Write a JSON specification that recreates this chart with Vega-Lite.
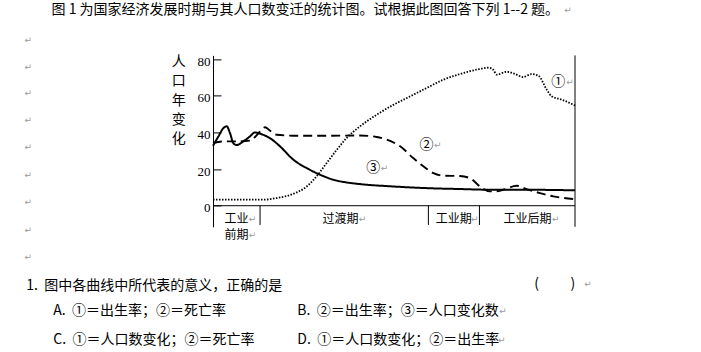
{
  "$schema": "https://vega.github.io/schema/vega-lite/v6.json",
  "autosize": {"type": "none"},
  "width": 362,
  "height": 171.4,
  "padding": {"left": 213, "top": 55.4, "right": 126, "bottom": 125.2},
  "background": "white",
  "config": {"view": {"stroke": null}},
  "datasets": {
    "curves": [
      {"series": "①", "x": 0, "y": 3.3}, {"series": "①", "x": 13.9, "y": 3.3}, {"series": "①", "x": 17.6, "y": 4.2},
      {"series": "①", "x": 22.2, "y": 6.5}, {"series": "①", "x": 25.9, "y": 10.5}, {"series": "①", "x": 28.6, "y": 16},
      {"series": "①", "x": 31.4, "y": 23.3}, {"series": "①", "x": 34.2, "y": 30.5}, {"series": "①", "x": 36.9, "y": 36.9},
      {"series": "①", "x": 40.6, "y": 43.3}, {"series": "①", "x": 45.2, "y": 49.6}, {"series": "①", "x": 49.8, "y": 55},
      {"series": "①", "x": 54.4, "y": 59.6}, {"series": "①", "x": 59.0, "y": 64.2}, {"series": "①", "x": 63.6, "y": 68.7},
      {"series": "①", "x": 68.2, "y": 71.8}, {"series": "①", "x": 72.8, "y": 74.2}, {"series": "①", "x": 76.1, "y": 75.3},
      {"series": "①", "x": 77.4, "y": 74.2}, {"series": "①", "x": 78.4, "y": 71.5}, {"series": "①", "x": 81.1, "y": 73.1},
      {"series": "①", "x": 83.0, "y": 72.2}, {"series": "①", "x": 85.7, "y": 70.2}, {"series": "①", "x": 88.0, "y": 71.8},
      {"series": "①", "x": 89.9, "y": 70.9}, {"series": "①", "x": 92.2, "y": 63.3}, {"series": "①", "x": 93.6, "y": 59.6},
      {"series": "①", "x": 95.9, "y": 58.2}, {"series": "①", "x": 100, "y": 54.7},
      {"series": "②", "x": 0, "y": 34.2}, {"series": "②", "x": 2.9, "y": 35.1}, {"series": "②", "x": 6.5, "y": 35.1},
      {"series": "②", "x": 10.2, "y": 35.5}, {"series": "②", "x": 11.6, "y": 37.5}, {"series": "②", "x": 13.0, "y": 40.5},
      {"series": "②", "x": 14.4, "y": 42.8}, {"series": "②", "x": 15.7, "y": 41}, {"series": "②", "x": 17.6, "y": 38.7},
      {"series": "②", "x": 22.2, "y": 38.2}, {"series": "②", "x": 31.4, "y": 38.2}, {"series": "②", "x": 40.6, "y": 38.3},
      {"series": "②", "x": 45.2, "y": 37.5}, {"series": "②", "x": 48.0, "y": 36}, {"series": "②", "x": 51.7, "y": 32.4},
      {"series": "②", "x": 55.3, "y": 26}, {"series": "②", "x": 58.1, "y": 21.5}, {"series": "②", "x": 60.9, "y": 17.8},
      {"series": "②", "x": 63.6, "y": 16.4}, {"series": "②", "x": 68.2, "y": 16.2}, {"series": "②", "x": 71.0, "y": 15},
      {"series": "②", "x": 73.8, "y": 10.5}, {"series": "②", "x": 76.5, "y": 7.8}, {"series": "②", "x": 78.4, "y": 7.8},
      {"series": "②", "x": 80.2, "y": 8.7}, {"series": "②", "x": 83.9, "y": 10.9}, {"series": "②", "x": 86.6, "y": 9.1},
      {"series": "②", "x": 90.3, "y": 6.9}, {"series": "②", "x": 94.0, "y": 5.1}, {"series": "②", "x": 100, "y": 3.6},
      {"series": "③", "x": 0, "y": 32.7}, {"series": "③", "x": 1.5, "y": 37.8}, {"series": "③", "x": 2.9, "y": 42.4},
      {"series": "③", "x": 3.8, "y": 43.3}, {"series": "③", "x": 4.7, "y": 39.6}, {"series": "③", "x": 5.6, "y": 34.2},
      {"series": "③", "x": 6.5, "y": 33.1}, {"series": "③", "x": 8.4, "y": 35.1}, {"series": "③", "x": 10.2, "y": 37.8},
      {"series": "③", "x": 11.6, "y": 40}, {"series": "③", "x": 13.0, "y": 39.3}, {"series": "③", "x": 15.7, "y": 36.9},
      {"series": "③", "x": 18.5, "y": 32.4}, {"series": "③", "x": 22.2, "y": 25.1}, {"series": "③", "x": 25.9, "y": 20.5},
      {"series": "③", "x": 29.6, "y": 16.9}, {"series": "③", "x": 33.2, "y": 14.2}, {"series": "③", "x": 36.9, "y": 12.7},
      {"series": "③", "x": 40.6, "y": 11.8}, {"series": "③", "x": 49.8, "y": 10.5}, {"series": "③", "x": 59.0, "y": 9.6},
      {"series": "③", "x": 68.2, "y": 9.1}, {"series": "③", "x": 77.4, "y": 8.7}, {"series": "③", "x": 86.6, "y": 8.7},
      {"series": "③", "x": 100, "y": 8.4}
    ],
    "frame": [
      {"x": 0, "x2": 100, "y": 0, "y2": 0},
      {"x": 100, "x2": 100, "y": -11.5, "y2": 82},
      {"x": 13, "x2": 13, "y": -10.5, "y2": 0},
      {"x": 59.5, "x2": 59.5, "y": -10.5, "y2": 0},
      {"x": 73.6, "x2": 73.6, "y": -10.5, "y2": 0}
    ],
    "texts": [
      {"kind": "left", "x": -44.6, "y": 106.9, "text": "图 1 为国家经济发展时期与其人口数变迁的统计图。试根据此图回答下列 1--2 题。"},
      {"kind": "left", "x": -51.6, "y": -43.8, "text": "1.\u00a0\u00a0图中各曲线中所代表的意义，正确的是"},
      {"kind": "left", "x": -44.1, "y": -57.6, "text": "A.\u00a0\u00a0①＝出生率；②＝死亡率"},
      {"kind": "left", "x": 23.3, "y": -57.6, "text": "B.\u00a0\u00a0②＝出生率；③＝人口变化数"},
      {"kind": "left", "x": -44.1, "y": -73.1, "text": "C.\u00a0\u00a0①＝人口数变化；②＝死亡率"},
      {"kind": "left", "x": 23.3, "y": -73.1, "text": "D.\u00a0\u00a0①＝人口数变化；②＝出生率"},
      {"kind": "center", "x": 89.4, "y": -42.7, "text": "("},
      {"kind": "center", "x": 99.4, "y": -42.7, "text": ")"},
      {"kind": "center", "x": 95.4, "y": 67.5, "text": "①"},
      {"kind": "center", "x": 59.0, "y": 33.1, "text": "②"},
      {"kind": "center", "x": 44.3, "y": 20.7, "text": "③"},
      {"kind": "period", "x": 6.5, "y": -7.3, "text": "工业"},
      {"kind": "period", "x": 6.5, "y": -16.0, "text": "前期"},
      {"kind": "period", "x": 35.2, "y": -7.3, "text": "过渡期"},
      {"kind": "period", "x": 66.5, "y": -7.3, "text": "工业期"},
      {"kind": "period", "x": 86.9, "y": -7.3, "text": "工业后期"},
      {"kind": "mark", "x": -51.0, "y": 90.4, "text": "↵"},
      {"kind": "mark", "x": -51.0, "y": 75.8, "text": "↵"},
      {"kind": "mark", "x": -51.0, "y": 61.3, "text": "↵"},
      {"kind": "mark", "x": -51.0, "y": 46.8, "text": "↵"},
      {"kind": "mark", "x": -51.0, "y": 32.2, "text": "↵"},
      {"kind": "mark", "x": -51.0, "y": 16.7, "text": "↵"},
      {"kind": "mark", "x": -51.0, "y": 2.2, "text": "↵"},
      {"kind": "mark", "x": -51.0, "y": -13.3, "text": "↵"},
      {"kind": "mark", "x": -51.0, "y": -27.8, "text": "↵"},
      {"kind": "mark", "x": 98.1, "y": 106.9, "text": "↵"},
      {"kind": "mark", "x": 103.6, "y": -42.7, "text": "↵"},
      {"kind": "mark", "x": 80.1, "y": -57.6, "text": "↵"},
      {"kind": "mark", "x": 79.8, "y": -73.1, "text": "↵"},
      {"kind": "mark", "x": 98.6, "y": 67.5, "text": "↵"},
      {"kind": "mark", "x": 62.1, "y": 33.1, "text": "↵"},
      {"kind": "mark", "x": 47.4, "y": 20.7, "text": "↵"},
      {"kind": "mark", "x": 10.9, "y": -7.3, "text": "↵"},
      {"kind": "mark", "x": 10.9, "y": -16.0, "text": "↵"},
      {"kind": "mark", "x": 41.3, "y": -7.3, "text": "↵"},
      {"kind": "mark", "x": 72.3, "y": -7.3, "text": "↵"},
      {"kind": "mark", "x": 94.7, "y": -7.3, "text": "↵"}
    ]
  },
  "layer": [
    {
      "data": {"name": "curves"},
      "mark": {"type": "line", "interpolate": "monotone", "color": "black", "strokeCap": "butt", "clip": false},
      "encoding": {
        "x": {"field": "x", "type": "quantitative", "scale": {"domain": [0, 100], "nice": false, "zero": false}, "axis": null},
        "y": {
          "field": "y", "type": "quantitative",
          "scale": {"domain": [-11.5, 82], "nice": false, "zero": false},
          "axis": {
            "values": [0, 20, 40, 60, 80],
            "title": ["人", "口", "年", "变", "化"],
            "titleAngle": 0, "titleX": -34.7, "titleY": -0.7, "titleAlign": "center", "titleBaseline": "top",
            "titleLineHeight": 19.2, "titleFont": "Noto Sans CJK SC", "titleFontSize": 14, "titleFontWeight": "normal", "titleColor": "black",
            "labelFont": "Liberation Serif", "labelFontSize": 13, "labelColor": "black", "labelPadding": 11, "labelOffset": 2,
            "tickSize": -8, "tickColor": "black", "tickWidth": 1, "domainColor": "black", "domainWidth": 1, "grid": false
          }
        },
        "detail": {"field": "series"},
        "strokeDash": {"field": "series", "type": "nominal", "scale": {"domain": ["①", "②", "③"], "range": [[1.5, 1.5], [9, 5], [1, 0]]}, "legend": null},
        "strokeWidth": {"field": "series", "type": "nominal", "scale": {"domain": ["①", "②", "③"], "range": [1.8, 2, 2]}, "legend": null}
      }
    },
    {
      "data": {"name": "frame"},
      "mark": {"type": "rule", "color": "black", "strokeWidth": 1},
      "encoding": {
        "x": {"field": "x", "type": "quantitative"},
        "x2": {"field": "x2"},
        "y": {"field": "y", "type": "quantitative"},
        "y2": {"field": "y2"}
      }
    },
    {
      "data": {"name": "texts"},
      "transform": [{"filter": "datum.kind === 'left'"}],
      "mark": {"type": "text", "align": "left", "baseline": "middle", "font": "Noto Sans CJK SC", "fontSize": 14, "color": "black"},
      "encoding": {
        "x": {"field": "x", "type": "quantitative"},
        "y": {"field": "y", "type": "quantitative"},
        "text": {"field": "text"}
      }
    },
    {
      "data": {"name": "texts"},
      "transform": [{"filter": "datum.kind === 'center'"}],
      "mark": {"type": "text", "align": "center", "baseline": "middle", "font": "Noto Sans CJK SC", "fontSize": 14, "color": "black"},
      "encoding": {
        "x": {"field": "x", "type": "quantitative"},
        "y": {"field": "y", "type": "quantitative"},
        "text": {"field": "text"}
      }
    },
    {
      "data": {"name": "texts"},
      "transform": [{"filter": "datum.kind === 'period'"}],
      "mark": {"type": "text", "align": "center", "baseline": "middle", "font": "Noto Sans CJK SC", "fontSize": 12, "color": "black"},
      "encoding": {
        "x": {"field": "x", "type": "quantitative"},
        "y": {"field": "y", "type": "quantitative"},
        "text": {"field": "text"}
      }
    },
    {
      "data": {"name": "texts"},
      "transform": [{"filter": "datum.kind === 'mark'"}],
      "mark": {"type": "text", "align": "center", "baseline": "middle", "font": "DejaVu Sans", "fontSize": 9, "color": "#9a9a9a"},
      "encoding": {
        "x": {"field": "x", "type": "quantitative"},
        "y": {"field": "y", "type": "quantitative"},
        "text": {"field": "text"}
      }
    }
  ]
}
